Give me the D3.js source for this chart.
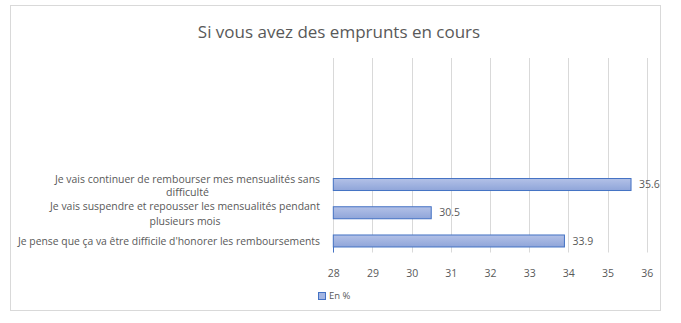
<!DOCTYPE html>
<html><head><meta charset="utf-8">
<script src="https://cdn.jsdelivr.net/npm/d3@7"></script>
<style>body{margin:0;background:#fff}svg{display:block}text{font-family:"Open Sans","Noto Sans",sans-serif}</style>
</head><body>
<script>
const title = "Si vous avez des emprunts en cours";
const categories = [
  ["Je vais continuer de rembourser mes mensualités sans", "difficulté"],
  ["Je vais suspendre et repousser les mensualités pendant", "plusieurs mois"],
  ["Je pense que ça va être difficile d'honorer les remboursements"]
];
const values = [35.6, 30.5, 33.9];
const xTicks = [28, 29, 30, 31, 32, 33, 34, 35, 36];
const seriesName = "En %";

const W = 681, H = 323;
const svg = d3.select("body").append("svg").attr("width", W).attr("height", H);
const defs = svg.append("defs");
const g = defs.append("linearGradient").attr("id","bg").attr("x1",0).attr("y1",0).attr("x2",0).attr("y2",1);
g.append("stop").attr("offset","0%").attr("stop-color","#b3c1e7");
g.append("stop").attr("offset","100%").attr("stop-color","#8fa5d9");

svg.append("rect").attr("x",10.5).attr("y",5.5).attr("width",650).attr("height",305)
  .attr("fill","#fff").attr("stroke","#d9d9d9");

svg.append("text").attr("x",339).attr("y",38).attr("text-anchor","middle")
  .attr("font-size",17).attr("fill","#595959").text(title);

const x = d3.scaleLinear().domain([28,36]).range([333.3,646.7]);
const idx = categories.map((d,i)=>i);
const y = d3.scaleBand().domain(idx).range([170.4,255.1]).paddingInner(0.575).paddingOuter(0.2875);
const plotTop = 58, plotBottom = 252.5;

// gridlines
svg.append("g").selectAll("line").data(xTicks).join("line")
  .attr("x1",d=>Math.round(x(d))+0.5).attr("x2",d=>Math.round(x(d))+0.5)
  .attr("y1",plotTop).attr("y2",plotBottom)
  .attr("stroke","#d9d9d9").attr("stroke-width",1);

// x axis labels
const xAxis = d3.axisBottom(x).tickValues(xTicks).tickSize(0).tickPadding(0).tickFormat(d3.format("d"));
const ax = svg.append("g").attr("transform",`translate(0,${plotBottom+20.5})`).call(xAxis);
ax.select(".domain").remove();
ax.selectAll("text").attr("font-size",10.5).attr("fill","#595959").attr("font-family","'Open Sans',sans-serif")
  .attr("dy","0.35em").attr("y",0);

// bars
svg.append("g").selectAll("rect").data(values).join("rect")
  .attr("x",x(28)).attr("y",(d,i)=>y(i))
  .attr("width",d=>x(d)-x(28)).attr("height",y.bandwidth())
  .attr("fill","url(#bg)").attr("stroke","#4472c4").attr("stroke-width",1);

// category axis line (blue segment)
svg.append("line").attr("x1",333.5).attr("x2",333.5).attr("y1",y(2)+y.bandwidth()).attr("y2",plotBottom)
  .attr("stroke","#4472c4").attr("stroke-width",1);

// data labels
svg.append("g").selectAll("text").data(values).join("text")
  .attr("x",d=>x(d)+8).attr("y",(d,i)=>y(i)+y.bandwidth()/2).attr("dy","0.35em")
  .attr("font-size",10.5).attr("fill","#595959").text(d=>d.toFixed(1));

// category labels
const labelW = [[265,43],[270,71],[302]];
const cl = svg.append("g");
categories.forEach((lines,i)=>{
  const cy = y(i)+y.bandwidth()/2;
  const offs = lines.length===1 ? [0] : (i===0 ? [-5.5, 8] : [-6.3, 8.7]);
  const cx = 320 - labelW[i][0]/2;
  lines.forEach((t,j)=>{
    cl.append("text").attr("x",cx).attr("y",cy+offs[j]).attr("dy","0.35em")
      .attr("text-anchor","middle").attr("font-size",10.5).attr("fill","#595959")
      .attr("textLength",labelW[i][j]).attr("lengthAdjust","spacingAndGlyphs").text(t);
  });
});

// legend
svg.append("rect").attr("x",318.5).attr("y",292.5).attr("width",7).attr("height",7)
  .attr("fill","#a3b5e2").attr("stroke","#4472c4");
svg.append("text").attr("x",329).attr("y",296).attr("dy","0.35em").attr("font-size",9.5)
  .attr("fill","#595959").text(seriesName);
</script>
</body></html>
